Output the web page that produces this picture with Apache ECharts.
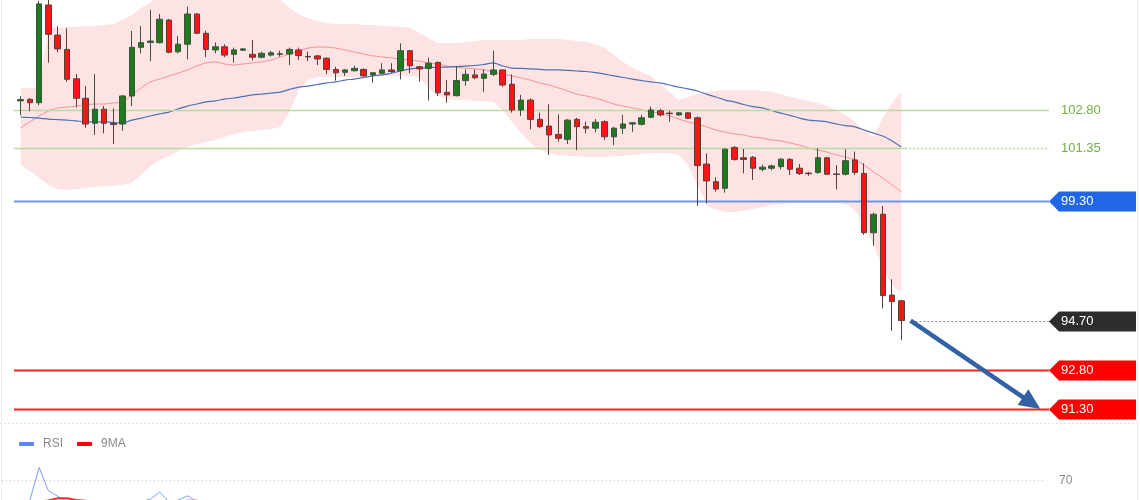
<!DOCTYPE html>
<html><head><meta charset="utf-8">
<script src="https://cdn.jsdelivr.net/npm/echarts/dist/echarts.min.js"></script>
<style>html,body{margin:0;padding:0;background:#fff}#c{width:1140px;height:500px}</style>
</head><body><div id="c"></div>
<script>
const opens = [103.15,103.21,103.08,106.84,105.68,105.13,104.00,103.25,102.29,102.83,
102.28,102.26,103.34,105.21,105.40,105.39,106.26,105.04,105.33,106.49,
105.75,105.11,105.23,104.94,105.10,104.94,104.83,104.91,104.94,104.95,
105.11,104.86,104.88,104.79,104.36,104.25,104.31,104.36,104.15,104.21,
104.34,104.31,105.08,104.46,104.40,104.63,103.48,103.35,103.93,104.15,
104.02,104.17,104.34,103.79,102.80,103.18,102.44,102.18,101.86,101.67,
102.44,102.16,102.10,102.35,101.77,102.10,102.26,102.25,102.52,102.77,
102.68,102.61,102.69,102.50,100.72,100.04,99.79,101.36,100.96,100.98,
100.52,100.56,100.62,100.90,100.56,100.37,100.40,100.96,100.34,100.33,
100.88,100.36,98.08,98.79,95.68,95.46];
const closes = [103.20,103.08,106.88,105.71,105.15,103.98,103.25,102.26,102.83,102.29,
102.24,103.34,105.21,105.39,105.45,106.29,105.02,105.33,106.49,105.75,
105.13,105.23,104.91,105.11,105.15,104.83,104.98,105.00,104.96,105.13,
104.89,104.84,104.76,104.36,104.23,104.34,104.40,104.11,104.23,104.34,
104.28,105.08,104.50,104.38,104.60,103.46,103.38,103.93,104.17,104.04,
104.18,104.34,103.76,102.80,103.18,102.44,102.16,101.84,101.71,102.41,
102.16,102.10,102.33,101.77,102.10,102.26,102.31,102.50,102.80,102.61,
102.66,102.69,102.48,100.66,100.07,99.76,101.29,100.90,100.90,100.56,
100.60,100.65,100.91,100.52,100.36,100.35,100.96,100.33,100.32,100.85,
100.40,98.08,98.79,95.66,95.43,94.70];
const lows = [102.60,102.75,102.98,104.62,105.02,103.89,102.90,102.12,101.84,101.90,
101.49,102.00,102.95,104.98,104.68,105.36,104.98,104.98,104.75,105.72,
104.83,104.98,104.83,104.62,105.08,104.70,104.79,104.85,104.85,104.53,
104.72,104.68,104.53,104.18,103.93,104.11,104.28,104.08,103.85,104.18,
104.23,103.98,104.21,103.89,103.16,103.34,103.08,103.32,103.73,103.98,
103.50,104.10,103.70,102.70,102.57,102.06,102.10,101.07,101.58,101.49,
101.26,101.90,101.94,101.65,101.45,101.88,101.96,102.20,102.48,102.55,
102.35,102.58,102.45,99.11,99.21,99.66,99.62,100.85,100.36,100.11,
100.44,100.48,100.52,100.30,100.30,100.27,100.34,100.30,99.75,100.28,
100.30,98.00,97.58,95.17,94.31,93.95];
const highs = [103.33,103.25,107.00,107.05,106.03,105.94,104.18,103.72,104.18,102.95,
102.86,103.38,105.84,106.03,106.65,106.49,106.30,105.65,106.77,106.52,
105.85,105.40,105.33,105.20,105.18,105.49,105.04,105.07,105.08,105.20,
105.20,105.04,104.92,104.82,104.46,104.38,104.50,104.40,104.26,104.60,
104.60,105.36,105.10,104.50,104.81,104.66,103.95,104.49,104.36,104.36,
104.36,105.08,104.36,104.17,103.38,103.25,102.70,103.02,102.63,102.45,
102.50,102.35,102.45,102.40,102.15,102.61,102.33,102.61,102.93,102.85,
102.77,102.72,102.72,102.55,101.13,100.21,101.33,101.41,101.30,101.03,
100.70,100.70,100.95,100.95,100.72,100.42,101.33,101.00,100.68,101.29,
101.20,100.75,98.85,99.11,96.29,95.50];
const bbUpper = [103.65,103.65,103.68,105.95,105.95,105.99,105.99,106.03,106.03,106.07,
106.11,106.26,106.45,106.72,106.95,107.15,107.26,107.34,107.41,107.41,
107.41,107.41,107.38,107.34,107.30,107.26,107.22,107.15,107.03,106.72,
106.49,106.34,106.22,106.15,106.11,106.11,106.11,106.07,106.07,106.03,
106.03,105.99,105.95,105.76,105.57,105.38,105.38,105.38,105.41,105.45,
105.49,105.49,105.49,105.49,105.49,105.53,105.53,105.53,105.53,105.49,
105.45,105.41,105.34,105.18,104.91,104.65,104.41,104.26,104.11,103.80,
103.49,103.18,103.30,103.41,103.49,103.53,103.57,103.57,103.57,103.57,
103.53,103.49,103.41,103.30,103.22,103.15,103.07,102.95,102.80,102.61,
102.34,102.03,101.76,102.49,103.07,103.49];
const bbMiddle = [102.11,102.34,102.57,102.76,102.88,102.91,102.95,102.99,103.03,103.03,
103.07,103.11,103.38,103.65,103.88,103.99,104.11,104.22,104.34,104.49,
104.61,104.65,104.57,104.53,104.57,104.61,104.65,104.72,104.84,104.95,
105.07,105.18,105.22,105.22,105.18,105.11,105.03,104.95,104.88,104.84,
104.80,104.76,104.72,104.68,104.61,104.57,104.49,104.45,104.41,104.38,
104.34,104.26,104.18,104.11,104.03,103.95,103.84,103.76,103.65,103.53,
103.41,103.34,103.26,103.15,103.03,102.95,102.88,102.80,102.72,102.68,
102.57,102.45,102.34,102.26,102.15,102.03,101.95,101.88,101.84,101.76,
101.72,101.65,101.61,101.53,101.45,101.34,101.26,101.18,101.07,100.99,
100.88,100.68,100.42,100.18,99.92,99.65];
const bbLower = [100.68,100.45,100.18,99.92,99.76,99.72,99.76,99.80,99.84,99.88,
99.88,99.92,99.99,100.30,100.65,100.88,101.03,101.22,101.38,101.49,
101.57,101.65,101.76,101.88,101.95,101.99,102.03,102.07,102.15,102.72,
103.57,103.95,104.07,104.07,104.07,104.07,104.07,104.11,104.11,104.11,
104.11,104.11,104.11,104.07,103.65,103.34,103.22,103.18,103.18,103.15,
103.15,103.11,102.80,102.34,101.91,101.53,101.26,101.15,101.07,101.03,
101.03,100.99,100.99,100.99,101.03,101.03,101.07,101.11,101.15,101.15,
101.15,101.07,100.68,99.92,99.15,98.95,98.88,98.88,98.92,98.99,
99.07,99.15,99.18,99.22,99.22,99.22,99.22,99.22,99.22,99.18,
98.95,98.38,97.61,96.72,96.07,95.76];
const maSlow = [102.53,102.51,102.49,102.45,102.43,102.41,102.38,102.34,102.34,102.34,
102.32,102.30,102.41,102.49,102.57,102.65,102.72,102.84,102.95,103.03,
103.11,103.15,103.22,103.26,103.32,103.38,103.41,103.45,103.49,103.59,
103.68,103.72,103.78,103.84,103.88,103.95,103.99,104.05,104.11,104.15,
104.22,104.30,104.38,104.41,104.43,104.45,104.45,104.47,104.49,104.51,
104.55,104.61,104.49,104.41,104.40,104.38,104.36,104.34,104.34,104.32,
104.30,104.28,104.24,104.18,104.11,104.05,103.99,103.93,103.88,103.84,
103.76,103.68,103.61,103.53,103.41,103.30,103.18,103.11,103.01,102.93,
102.88,102.78,102.68,102.59,102.49,102.41,102.38,102.34,102.26,102.20,
102.15,102.03,101.91,101.80,101.61,101.38];
const rsi = [40,46,85,57,50.5,44,40,36,42,39,
37,44,43,44,47,55.5,44,46,51,44,
41,43,40,42,42,40,41,42,42,43,
41,41,40,36,35,37,38,36,38,39,
39,45,41,40,42,34,33,39,41,40,
41,43,37,30,34,29,28,26,26,34,
32,32,35,31,35,37,38,41,44,42,
42,43,41,26,23,22,36,33,33,31,
32,33,36,33,32,32,38,33,33,38,
34,22,28,16,15,14];
const rsiMa = [41,42,44,45.5,48.2,48,46,45,44,43,
42,42,41,41,42,43,44,44.5,45,45,
44,44,43,42.5,42,42,41.5,41.5,41.5,41.5,
41.5,41.5,41,40,39.5,39,38.5,38,38,38,
38.5,39.5,40,40,40.5,39.5,38.5,38.5,38.5,38.5,
38.5,39,38.5,37,36,35,34,33,32,31.5,
31,31,31,31,32,33,34,35,36.5,37.5,
38.5,39.5,40,37.5,35,33,32.5,32,31.5,31,
30.5,30.5,32,33,33,33,33.5,34,34.5,35,
35,33,32,29,27,24];
const levels = [102.80, 101.35, 99.30, 94.70, 92.80, 91.30];
const levelLabels = ['102.80', '101.35', '99.30', '94.70', '92.80', '91.30'];
const rsiLevel = 70;
const rsiLevelLabel = '70';
const arrowFrom = [96, 94.70];
const arrowTo = [110, 91.30];
const futureSlots = 15;

const FONT = '"Liberation Sans", Arial, sans-serif';
const categories = Array.from({length: opens.length + futureSlots}, (_, i) => 'b' + i);
const candleData = opens.map((o, i) => [o, closes[i], lows[i], highs[i]]);
const lastIdx = opens.length - 1;

const levelStyles = [
  {line: '#b9dc9f', width: 1.5, text: '#74b043', tag: null, mode: 'solid'},
  {line: '#b9dc9f', width: 1.5, text: '#74b043', tag: null, mode: 'solidThenDotted'},
  {line: '#6b98ef', width: 2, text: '#ffffff', tag: '#1f66e8', mode: 'solid'},
  {line: '#8e8e8e', width: 1, text: '#ffffff', tag: '#2d2d2d', mode: 'dottedAfter'},
  {line: '#ff1f1f', width: 2, text: '#ffffff', tag: '#ff0000', mode: 'solid'},
  {line: '#ff1f1f', width: 2, text: '#ffffff', tag: '#ff0000', mode: 'solid'}
];

const chart = echarts.init(document.getElementById('c'), null, {renderer: 'canvas'});
const option = {
  animation: false,
  backgroundColor: '#ffffff',
  grid: [
    {left: 16, right: 95, top: 0, height: 422},
    {left: 16, right: 95, top: 455, height: 45}
  ],
  xAxis: [
    {type: 'category', gridIndex: 0, data: categories, boundaryGap: true, show: false},
    {type: 'category', gridIndex: 1, data: categories, boundaryGap: true, show: false}
  ],
  yAxis: [
    {type: 'value', gridIndex: 0, min: 90.8, max: 107.03, show: false, splitLine: {show: false}},
    {type: 'value', gridIndex: 1, min: 46, max: 100, show: false, splitLine: {show: false}}
  ],
  legend: {
    left: 14, top: 433, itemWidth: 15, itemHeight: 4, itemGap: 14, icon: 'roundRect',
    textStyle: {color: '#8a8a8a', fontSize: 12, fontFamily: FONT, padding: [0, 0, 0, 4]},
    data: ['RSI', '9MA']
  },
  graphic: [
    {type: 'line', shape: {x1: 0, y1: 423.5, x2: 1140, y2: 423.5}, style: {stroke: '#e2e2e2', lineWidth: 1, lineDash: [2, 2]}, silent: true},
    {type: 'line', shape: {x1: 1.5, y1: 0, x2: 1.5, y2: 500}, style: {stroke: '#eeeeee', lineWidth: 1}, silent: true},
    {type: 'line', shape: {x1: 1137.5, y1: 0, x2: 1137.5, y2: 500}, style: {stroke: '#eeeeee', lineWidth: 1}, silent: true}
  ],
  series: [
    {
      name: 'BB', type: 'custom', xAxisIndex: 0, yAxisIndex: 0, clip: true, z: 1,
      data: [[0, bbUpper[0]]], encode: {x: 0, y: 1},
      renderItem: function (params, api) {
        const pts = [];
        for (let i = 0; i < bbUpper.length; i++) pts.push(api.coord([i, bbUpper[i]]));
        for (let i = bbLower.length - 1; i >= 0; i--) pts.push(api.coord([i, bbLower[i]]));
        return {type: 'polygon', shape: {points: pts}, style: {fill: '#fde3e3'}};
      }
    },
    {
      name: 'Middle', type: 'line', xAxisIndex: 0, yAxisIndex: 0, data: bbMiddle, showSymbol: false, smooth: 0.2, z: 2,
      lineStyle: {color: '#f49191', width: 1}
    },
    {
      name: 'MA', type: 'line', xAxisIndex: 0, yAxisIndex: 0, data: maSlow, showSymbol: false, smooth: 0.2, z: 2,
      lineStyle: {color: '#4e70b4', width: 1.2}
    },
    {
      name: 'Levels', type: 'custom', xAxisIndex: 0, yAxisIndex: 0, clip: false, z: 3,
      data: levels.map((v, i) => [i, v]), encode: {x: 0, y: 1},
      renderItem: function (params, api) {
        const i = params.dataIndex;
        const st = levelStyles[i];
        const cs = params.coordSys;
        const y = Math.round(api.coord([0, api.value(1)])[1]) + 0.5;
        const x0 = cs.x - 2;
        const x1 = cs.x + cs.width + 4;
        const lastX = api.coord([lastIdx, api.value(1)])[0];
        const ch = [];
        if (st.mode === 'solid') {
          ch.push({type: 'line', shape: {x1: x0, y1: y, x2: x1, y2: y}, style: {stroke: st.line, lineWidth: st.width}});
        } else if (st.mode === 'solidThenDotted') {
          ch.push({type: 'line', shape: {x1: x0, y1: y, x2: lastX + 4, y2: y}, style: {stroke: st.line, lineWidth: st.width}});
          ch.push({type: 'line', shape: {x1: lastX + 4, y1: y, x2: x1, y2: y}, style: {stroke: st.line, lineWidth: st.width, lineDash: [2, 2]}});
        } else {
          ch.push({type: 'line', shape: {x1: lastX + 14, y1: y, x2: x1, y2: y}, style: {stroke: st.line, lineWidth: st.width, lineDash: [2, 2]}});
        }
        if (st.tag) {
          ch.push({type: 'polygon', shape: {points: [[x1, y], [x1 + 10, y - 10], [x1 + 87, y - 10], [x1 + 87, y + 10], [x1 + 10, y + 10]]}, style: {fill: st.tag}});
        }
        ch.push({type: 'text', style: {text: levelLabels[i], x: x1 + 12, y: y, fill: st.text, font: '13px ' + FONT, verticalAlign: 'middle', align: 'left'}});
        return {type: 'group', children: ch};
      }
    },
    {
      name: 'Price', type: 'candlestick', xAxisIndex: 0, yAxisIndex: 0, data: candleData, barWidth: 6, z: 5,
      itemStyle: {color: '#1d7a1d', color0: '#ff1414', borderColor: '#3e503e', borderColor0: '#5e3c3c', borderWidth: 1}
    },
    {
      name: 'Arrow', type: 'custom', xAxisIndex: 0, yAxisIndex: 0, clip: false, z: 6,
      data: [[arrowFrom[0], arrowFrom[1], arrowTo[0], arrowTo[1]]], encode: {x: [0, 2], y: [1, 3]},
      renderItem: function (params, api) {
        const p0 = api.coord([api.value(0), api.value(1)]);
        const p1 = api.coord([api.value(2), api.value(3)]);
        const dx = p1[0] - p0[0], dy = p1[1] - p0[1];
        const len = Math.sqrt(dx * dx + dy * dy);
        const ux = dx / len, uy = dy / len;
        const headL = 21, headW = 9.5;
        const bx = p1[0] - ux * headL, by = p1[1] - uy * headL;
        return {type: 'group', children: [
          {type: 'line', shape: {x1: p0[0], y1: p0[1], x2: bx + ux * 2, y2: by + uy * 2}, style: {stroke: '#3262a4', lineWidth: 4.5}},
          {type: 'polygon', shape: {points: [[p1[0], p1[1]], [bx - uy * headW, by + ux * headW], [bx + uy * headW, by - ux * headW]]}, style: {fill: '#3262a4'}}
        ]};
      }
    },
    {
      name: 'RSI70', type: 'custom', xAxisIndex: 1, yAxisIndex: 1, clip: false, z: 2,
      data: [[0, rsiLevel]], encode: {x: 0, y: 1},
      renderItem: function (params, api) {
        const cs = params.coordSys;
        const y = Math.round(api.coord([0, api.value(1)])[1]) + 0.5;
        const x1 = cs.x + cs.width + 1;
        return {type: 'group', children: [
          {type: 'line', shape: {x1: 2, y1: y, x2: x1, y2: y}, style: {stroke: '#c3c6d0', lineWidth: 1, lineDash: [1, 3]}},
          {type: 'text', style: {text: rsiLevelLabel, x: x1 + 13, y: y, fill: '#8a8a8a', font: '12px ' + FONT, verticalAlign: 'middle', align: 'left'}}
        ]};
      }
    },
    {
      name: 'RSI', type: 'line', xAxisIndex: 1, yAxisIndex: 1, data: rsi, showSymbol: false, z: 3, clip: true,
      lineStyle: {color: '#7c9ff3', width: 1}, itemStyle: {color: '#5b86ee'}
    },
    {
      name: '9MA', type: 'line', xAxisIndex: 1, yAxisIndex: 1, data: rsiMa, showSymbol: false, z: 3, clip: true,
      lineStyle: {color: '#ff2a2a', width: 2}, itemStyle: {color: '#ff0000'}
    }
  ]
};
chart.setOption(option);
</script>
</body></html>
